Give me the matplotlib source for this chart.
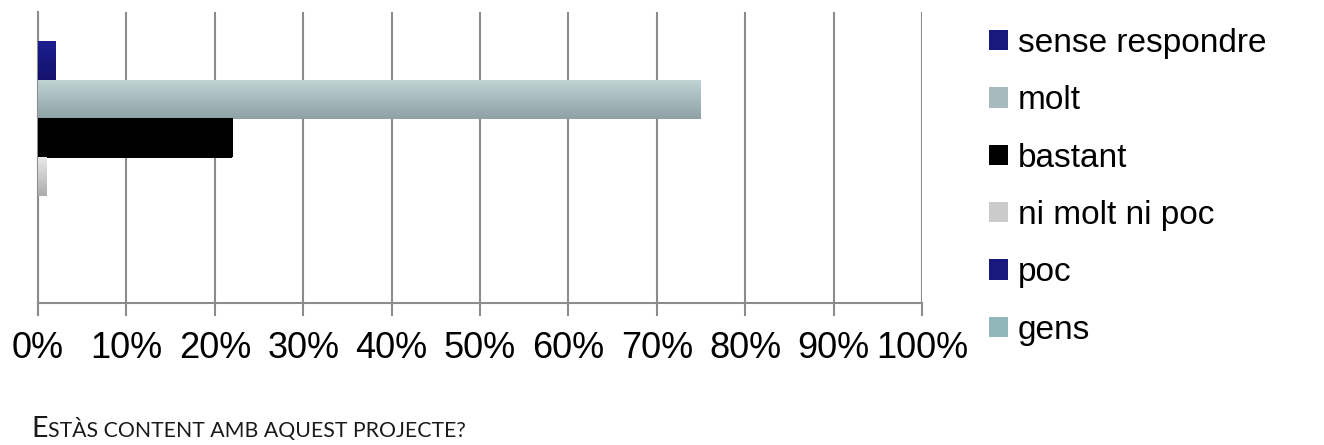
import numpy as np
import matplotlib
matplotlib.use("Agg")
from matplotlib import pyplot as plt
from matplotlib.patches import Patch
from matplotlib.colors import to_rgb

# dades
series = ['sense respondre', 'molt', 'bastant', 'ni molt ni poc', 'poc', 'gens']
values = [2, 75, 22, 1, 0, 0]
# colors (dalt, baix) del degradat
top_cols = ['#1d1d8f', '#bfd2d4', '#000000', '#e8e8e8', '#1d1d8f', '#a6cdd1']
bot_cols = ['#13136c', '#8ea2a5', '#000000', '#adadad', '#13136c', '#7a9fa3']
ticks = [0, 10, 20, 30, 40, 50, 60, 70, 80, 90, 100]

plt.rcParams['font.family'] = ['Liberation Sans', 'DejaVu Sans']

fig = plt.figure(figsize=(13.24, 4.45), dpi=100)
ax = fig.add_axes([38/1324, 1-303/445, (922-38)/1324, (303-12)/445])

h = 0.134
n = len(series)
for i, (s, v) in enumerate(zip(series, values)):
    y = (n-1)/2*h - i*h
    ax.barh(y, v, height=h, color=bot_cols[i], zorder=3)
    if v > 0:
        c1 = np.array(to_rgb(top_cols[i]))
        c2 = np.array(to_rgb(bot_cols[i]))
        t = np.linspace(0, 1, 50)[:, None]
        grad = (c1*(1-t) + c2*t)[:, None, :]
        ax.imshow(grad, extent=[0, v, y-h/2, y+h/2], aspect='auto', zorder=4,
                  origin='upper', interpolation='bilinear')

ax.set_xlim(0, 100)
ax.set_ylim(-0.5, 0.5)
ax.set_xticks(ticks)
ax.set_xticklabels([str(t)+'%' for t in ticks], fontsize=26)
ax.set_yticks([])
ax.grid(axis='x', color='#8c8c8c', linewidth=1.5, zorder=0)
for sp in ['top', 'right', 'left']:
    ax.spines[sp].set_visible(False)
ax.spines['bottom'].set_color('#8c8c8c')
ax.spines['bottom'].set_linewidth(1.5)
ax.tick_params(axis='x', length=9, width=1.5, color='#8c8c8c', pad=11)
ax.axvline(0, color='#8c8c8c', linewidth=1.5, ymin=-12/291, ymax=1, clip_on=False, zorder=2)

# llegenda amb el color mitja del degradat
handles = []
for i in range(n):
    mid = (np.array(to_rgb(top_cols[i])) + np.array(to_rgb(bot_cols[i])))/2
    handles.append(Patch(facecolor=tuple(mid)))
fig.legend(handles, series, loc='upper left', bbox_to_anchor=(989/1324, 1-28/445),
           frameon=False, fontsize=24, handlelength=0.56, handleheight=0.56,
           handletextpad=0.3, labelspacing=0.79, borderaxespad=0, borderpad=0)

# titol en versaletes
fig.canvas.draw()
r = fig.canvas.get_renderer()
x = 31/1324
yb = 1-437/445
parts = [('E', 20.5), ('STÀS CONTENT AMB AQUEST PROJECTE?', 15.3)]
for txt, fs in parts:
    t = fig.text(x, yb, txt, fontsize=fs, family='Lato', va='baseline', color='#1a1a1a')
    bb = t.get_window_extent(r)
    x += bb.width/1324

fig.savefig('out.png', dpi=100)
